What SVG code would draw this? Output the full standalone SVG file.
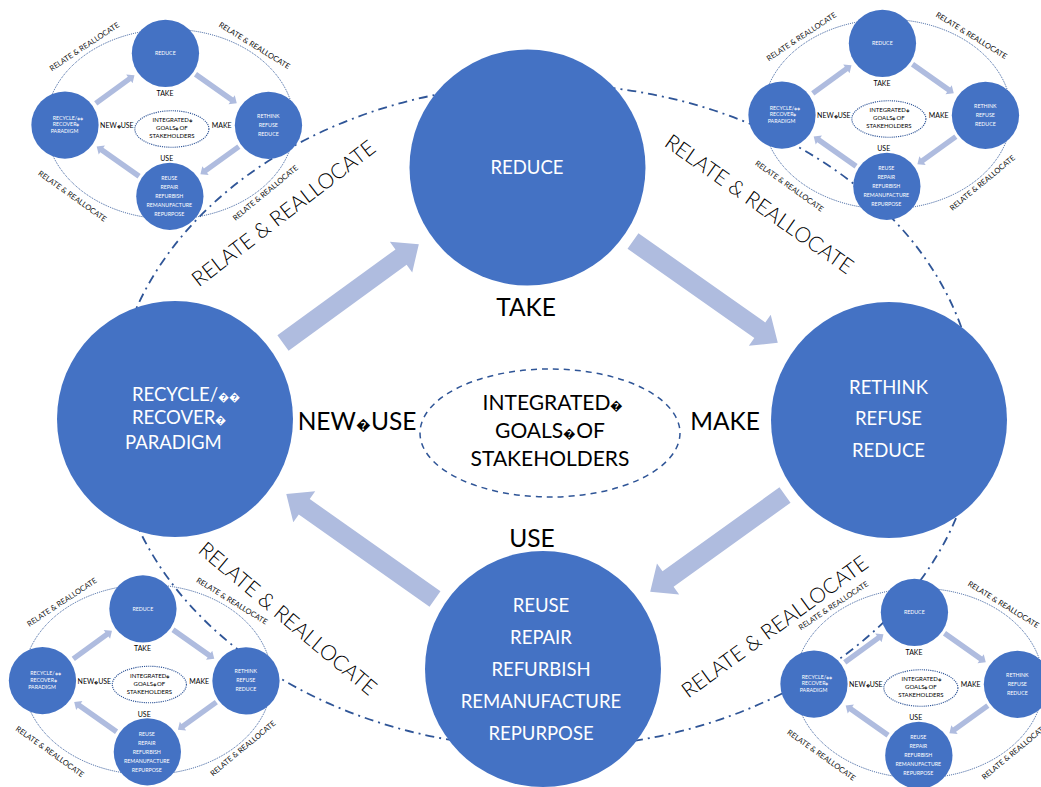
<svg xmlns="http://www.w3.org/2000/svg" xmlns:xlink="http://www.w3.org/1999/xlink" width="1041" height="787" viewBox="0 0 1041 787">
<style>
.c{fill:#4472C4}
.ct{fill:#fff;font-family:Lato,"Liberation Sans",sans-serif;font-size:18.5px;text-anchor:middle}
.ctl{text-anchor:start}
.lbl{fill:#000;font-family:Lato,"Liberation Sans",sans-serif;font-size:24.5px;text-anchor:middle}
.ctr{font-size:21px}
.rr{fill:#000;font-family:Lato,"Liberation Sans",sans-serif;font-size:21px;font-weight:300;text-anchor:middle}
.srr{fill:#111;font-family:Lato,"Liberation Sans",sans-serif;font-size:26.5px;text-anchor:middle}
.arr{fill:#AFBCDF}
.big{fill:none;stroke:#2F5597;stroke-width:1.8;stroke-dasharray:9 5 2 5}
.mid{fill:none;stroke:#2F5597;stroke-width:1.5;stroke-dasharray:6 5}
.sell{fill:none;stroke:#2F5597;stroke-width:3.5;stroke-dasharray:3.5 3.5}
.smid{fill:none;stroke:#2F5597;stroke-width:4;stroke-dasharray:4 3.5}
.t{font-size:0.6em}
</style>
<rect width="1041" height="787" fill="#fff"/>
<ellipse id="main-ring" class="big" cx="545" cy="416" rx="432" ry="332"/>

<!-- mini diagram top-left -->
<g id="mini-tl" transform="translate(15.1,5.6) scale(0.285)">
<ellipse class="sell" cx="544" cy="416" rx="436" ry="333"/>
<use xlink:href="#connectors" href="#connectors"/>
<g id="tl-reduce"><circle class="c" cx="527.5" cy="167.5" r="118"/><text class="ct" x="527" y="174">REDUCE</text></g>
<g id="tl-rethink"><circle class="c" cx="889" cy="420" r="118"/><text class="ct"><tspan x="888.5" y="394">RETHINK</tspan><tspan x="888.5" y="425">REFUSE</tspan><tspan x="888.5" y="457">REDUCE</tspan></text></g>
<g id="tl-recycle"><circle class="c" cx="175" cy="419" r="118"/><text class="ct ctl"><tspan x="132" y="401">RECYCLE/<tspan class="t">&#xFFFD;&#xFFFD;</tspan></tspan><tspan x="132" y="424">RECOVER<tspan class="t">&#xFFFD;</tspan></tspan><tspan x="125" y="448.5">PARADIGM</tspan></text></g>
<g id="tl-reuse"><circle class="c" cx="543" cy="669" r="118"/><text class="ct"><tspan x="541" y="612">REUSE</tspan><tspan x="541" y="644">REPAIR</tspan><tspan x="541" y="676">REFURBISH</tspan><tspan x="541" y="708">REMANUFACTURE</tspan><tspan x="541" y="740">REPURPOSE</tspan></text></g>
<g id="tl-goals"><ellipse class="smid" cx="550" cy="433" rx="130" ry="64"/><text class="lbl ctr"><tspan x="553" y="409.6">INTEGRATED<tspan class="t">&#xFFFD;</tspan></tspan><tspan x="550" y="437.6">GOALS<tspan class="t">&#xFFFD;</tspan>OF</tspan><tspan x="550" y="465.6">STAKEHOLDERS</tspan></text></g>
<g id="tl-labels">
<text class="lbl" x="526" y="316">TAKE</text><text class="lbl" x="725" y="430">MAKE</text><text class="lbl" x="532" y="547">USE</text><text class="lbl" x="357" y="430">NEW<tspan class="t">&#xFFFD;</tspan>USE</text>
<text class="srr" transform="translate(248,152) rotate(-33.5)">RELATE &amp; REALLOCATE</text>
<text class="srr" transform="translate(835,148) rotate(31.7)">RELATE &amp; REALLOCATE</text>
<text class="srr" transform="translate(195.5,675.7) rotate(35.6)">RELATE &amp; REALLOCATE</text>
<text class="srr" transform="translate(884,664) rotate(-39.6)">RELATE &amp; REALLOCATE</text>
</g>
</g>

<!-- mini diagram top-right -->
<g id="mini-tr" transform="translate(732.1,-4.4) scale(0.285)">
<ellipse class="sell" cx="544" cy="416" rx="436" ry="333"/>
<use xlink:href="#connectors" href="#connectors"/>
<g id="tr-reduce"><circle class="c" cx="527.5" cy="167.5" r="118"/><text class="ct" x="527" y="174">REDUCE</text></g>
<g id="tr-rethink"><circle class="c" cx="889" cy="420" r="118"/><text class="ct"><tspan x="888.5" y="394">RETHINK</tspan><tspan x="888.5" y="425">REFUSE</tspan><tspan x="888.5" y="457">REDUCE</tspan></text></g>
<g id="tr-recycle"><circle class="c" cx="175" cy="419" r="118"/><text class="ct ctl"><tspan x="132" y="401">RECYCLE/<tspan class="t">&#xFFFD;&#xFFFD;</tspan></tspan><tspan x="132" y="424">RECOVER<tspan class="t">&#xFFFD;</tspan></tspan><tspan x="125" y="448.5">PARADIGM</tspan></text></g>
<g id="tr-reuse"><circle class="c" cx="543" cy="669" r="118"/><text class="ct"><tspan x="541" y="612">REUSE</tspan><tspan x="541" y="644">REPAIR</tspan><tspan x="541" y="676">REFURBISH</tspan><tspan x="541" y="708">REMANUFACTURE</tspan><tspan x="541" y="740">REPURPOSE</tspan></text></g>
<g id="tr-goals"><ellipse class="smid" cx="550" cy="433" rx="130" ry="64"/><text class="lbl ctr"><tspan x="553" y="409.6">INTEGRATED<tspan class="t">&#xFFFD;</tspan></tspan><tspan x="550" y="437.6">GOALS<tspan class="t">&#xFFFD;</tspan>OF</tspan><tspan x="550" y="465.6">STAKEHOLDERS</tspan></text></g>
<g id="tr-labels">
<text class="lbl" x="526" y="316">TAKE</text><text class="lbl" x="725" y="430">MAKE</text><text class="lbl" x="532" y="547">USE</text><text class="lbl" x="357" y="430">NEW<tspan class="t">&#xFFFD;</tspan>USE</text>
<text class="srr" transform="translate(248,152) rotate(-33.5)">RELATE &amp; REALLOCATE</text>
<text class="srr" transform="translate(835,148) rotate(31.7)">RELATE &amp; REALLOCATE</text>
<text class="srr" transform="translate(195.5,675.7) rotate(35.6)">RELATE &amp; REALLOCATE</text>
<text class="srr" transform="translate(884,664) rotate(-39.6)">RELATE &amp; REALLOCATE</text>
</g>
</g>

<!-- mini diagram bottom-left -->
<g id="mini-bl" transform="translate(-7.4,561.1) scale(0.285)">
<ellipse class="sell" cx="544" cy="416" rx="436" ry="333"/>
<use xlink:href="#connectors" href="#connectors"/>
<g id="bl-reduce"><circle class="c" cx="527.5" cy="167.5" r="118"/><text class="ct" x="527" y="174">REDUCE</text></g>
<g id="bl-rethink"><circle class="c" cx="889" cy="420" r="118"/><text class="ct"><tspan x="888.5" y="394">RETHINK</tspan><tspan x="888.5" y="425">REFUSE</tspan><tspan x="888.5" y="457">REDUCE</tspan></text></g>
<g id="bl-recycle"><circle class="c" cx="175" cy="419" r="118"/><text class="ct ctl"><tspan x="132" y="401">RECYCLE/<tspan class="t">&#xFFFD;&#xFFFD;</tspan></tspan><tspan x="132" y="424">RECOVER<tspan class="t">&#xFFFD;</tspan></tspan><tspan x="125" y="448.5">PARADIGM</tspan></text></g>
<g id="bl-reuse"><circle class="c" cx="543" cy="669" r="118"/><text class="ct"><tspan x="541" y="612">REUSE</tspan><tspan x="541" y="644">REPAIR</tspan><tspan x="541" y="676">REFURBISH</tspan><tspan x="541" y="708">REMANUFACTURE</tspan><tspan x="541" y="740">REPURPOSE</tspan></text></g>
<g id="bl-goals"><ellipse class="smid" cx="550" cy="433" rx="130" ry="64"/><text class="lbl ctr"><tspan x="553" y="409.6">INTEGRATED<tspan class="t">&#xFFFD;</tspan></tspan><tspan x="550" y="437.6">GOALS<tspan class="t">&#xFFFD;</tspan>OF</tspan><tspan x="550" y="465.6">STAKEHOLDERS</tspan></text></g>
<g id="bl-labels">
<text class="lbl" x="526" y="316">TAKE</text><text class="lbl" x="725" y="430">MAKE</text><text class="lbl" x="532" y="547">USE</text><text class="lbl" x="357" y="430">NEW<tspan class="t">&#xFFFD;</tspan>USE</text>
<text class="srr" transform="translate(248,152) rotate(-33.5)">RELATE &amp; REALLOCATE</text>
<text class="srr" transform="translate(835,148) rotate(31.7)">RELATE &amp; REALLOCATE</text>
<text class="srr" transform="translate(195.5,675.7) rotate(35.6)">RELATE &amp; REALLOCATE</text>
<text class="srr" transform="translate(884,664) rotate(-39.6)">RELATE &amp; REALLOCATE</text>
</g>
</g>

<!-- mini diagram bottom-right -->
<g id="mini-br" transform="translate(764.1,564.6) scale(0.285)">
<ellipse class="sell" cx="544" cy="416" rx="436" ry="333"/>
<use xlink:href="#connectors" href="#connectors"/>
<g id="br-reduce"><circle class="c" cx="527.5" cy="167.5" r="118"/><text class="ct" x="527" y="174">REDUCE</text></g>
<g id="br-rethink"><circle class="c" cx="889" cy="420" r="118"/><text class="ct"><tspan x="888.5" y="394">RETHINK</tspan><tspan x="888.5" y="425">REFUSE</tspan><tspan x="888.5" y="457">REDUCE</tspan></text></g>
<g id="br-recycle"><circle class="c" cx="175" cy="419" r="118"/><text class="ct ctl"><tspan x="132" y="401">RECYCLE/<tspan class="t">&#xFFFD;&#xFFFD;</tspan></tspan><tspan x="132" y="424">RECOVER<tspan class="t">&#xFFFD;</tspan></tspan><tspan x="125" y="448.5">PARADIGM</tspan></text></g>
<g id="br-reuse"><circle class="c" cx="543" cy="669" r="118"/><text class="ct"><tspan x="541" y="612">REUSE</tspan><tspan x="541" y="644">REPAIR</tspan><tspan x="541" y="676">REFURBISH</tspan><tspan x="541" y="708">REMANUFACTURE</tspan><tspan x="541" y="740">REPURPOSE</tspan></text></g>
<g id="br-goals"><ellipse class="smid" cx="550" cy="433" rx="130" ry="64"/><text class="lbl ctr"><tspan x="553" y="409.6">INTEGRATED<tspan class="t">&#xFFFD;</tspan></tspan><tspan x="550" y="437.6">GOALS<tspan class="t">&#xFFFD;</tspan>OF</tspan><tspan x="550" y="465.6">STAKEHOLDERS</tspan></text></g>
<g id="br-labels">
<text class="lbl" x="526" y="316">TAKE</text><text class="lbl" x="725" y="430">MAKE</text><text class="lbl" x="532" y="547">USE</text><text class="lbl" x="357" y="430">NEW<tspan class="t">&#xFFFD;</tspan>USE</text>
<text class="srr" transform="translate(248,152) rotate(-33.5)">RELATE &amp; REALLOCATE</text>
<text class="srr" transform="translate(835,148) rotate(31.7)">RELATE &amp; REALLOCATE</text>
<text class="srr" transform="translate(195.5,675.7) rotate(35.6)">RELATE &amp; REALLOCATE</text>
<text class="srr" transform="translate(884,664) rotate(-39.6)">RELATE &amp; REALLOCATE</text>
</g>
</g>

<!-- main diagram -->
<g id="connectors">
<polygon class="arr" transform="translate(283,343) rotate(-36.05)" points="0,-9.5 146,-9.5 146,-19 168,0 146,19 146,9.5 0,9.5"/>
<polygon class="arr" transform="translate(633,241) rotate(35.12)" points="0,-9.5 155,-9.5 155,-19 177,0 155,19 155,9.5 0,9.5"/>
<polygon class="arr" transform="translate(785,495) rotate(144.3)" points="0,-9.5 144,-9.5 144,-19 166,0 144,19 144,9.5 0,9.5"/>
<polygon class="arr" transform="translate(435,599) rotate(-144.8)" points="0,-9.5 160,-9.5 160,-19 182,0 160,19 160,9.5 0,9.5"/>
</g>
<g id="reduce"><circle class="c" cx="527.5" cy="167.5" r="118"/><text class="ct" x="527" y="174">REDUCE</text></g>
<g id="rethink"><circle class="c" cx="889" cy="420" r="118"/><text class="ct"><tspan x="888.5" y="394">RETHINK</tspan><tspan x="888.5" y="425">REFUSE</tspan><tspan x="888.5" y="457">REDUCE</tspan></text></g>
<g id="recycle"><circle class="c" cx="175" cy="419" r="118"/><text class="ct ctl"><tspan x="132" y="401">RECYCLE/<tspan class="t">&#xFFFD;&#xFFFD;</tspan></tspan><tspan x="132" y="424">RECOVER<tspan class="t">&#xFFFD;</tspan></tspan><tspan x="125" y="448.5">PARADIGM</tspan></text></g>
<g id="reuse"><circle class="c" cx="543" cy="669" r="118"/><text class="ct"><tspan x="541" y="612">REUSE</tspan><tspan x="541" y="644">REPAIR</tspan><tspan x="541" y="676">REFURBISH</tspan><tspan x="541" y="708">REMANUFACTURE</tspan><tspan x="541" y="740">REPURPOSE</tspan></text></g>
<g id="goals"><ellipse class="mid" cx="550" cy="433" rx="130" ry="64"/><text class="lbl ctr"><tspan x="553" y="409.6">INTEGRATED<tspan class="t">&#xFFFD;</tspan></tspan><tspan x="550" y="437.6">GOALS<tspan class="t">&#xFFFD;</tspan>OF</tspan><tspan x="550" y="465.6">STAKEHOLDERS</tspan></text></g>
<g id="labels">
<text class="lbl" x="526" y="316">TAKE</text>
<text class="lbl" x="725" y="430">MAKE</text>
<text class="lbl" x="532" y="547">USE</text>
<text class="lbl" x="357" y="430">NEW<tspan class="t">&#xFFFD;</tspan>USE</text>
<text class="rr" transform="translate(288,219) rotate(-37.5)">RELATE &amp; REALLOCATE</text>
<text class="rr" transform="translate(755,210) rotate(35.2)">RELATE &amp; REALLOCATE</text>
<text class="rr" transform="translate(283,624) rotate(40)">RELATE &amp; REALLOCATE</text>
<text class="rr" transform="translate(779,632.5) rotate(-36.1)">RELATE &amp; REALLOCATE</text>
</g>
</svg>
